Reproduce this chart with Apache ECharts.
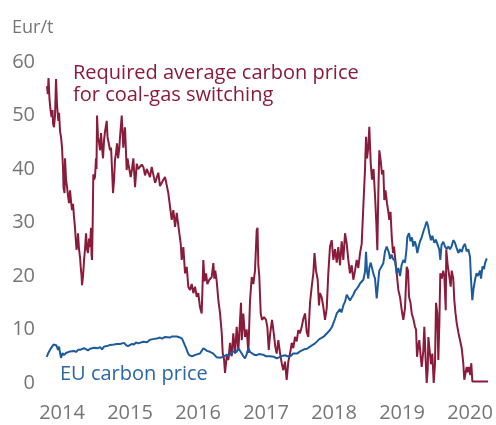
<!DOCTYPE html>
<html>
<head>
<meta charset="utf-8">
<script src="https://cdn.jsdelivr.net/npm/echarts@6/dist/echarts.min.js"></script>
<style>
  html, body { margin: 0; padding: 0; background: #fff; }
  #chart { width: 496px; height: 425px; }
</style>
</head>
<body>
<div id="chart"></div>
<script>
// x values are decimal years, y values are Eur/t
const yearTicks = [2014, 2015, 2016, 2017, 2018, 2019, 2020];
const valueTicks = [0, 10, 20, 30, 40, 50, 60];

const switchPrice = [
  [2013.779, 55.5], [2013.791, 54], [2013.801, 57], [2013.816, 53], [2013.831, 51], [2013.846, 49.7],
  [2013.860, 51], [2013.868, 48.5], [2013.882, 47.8], [2013.897, 50], [2013.912, 56.8], [2013.926, 52],
  [2013.946, 49], [2013.956, 50.5], [2013.971, 47], [2013.985, 46], [2014.000, 44], [2014.015, 40],
  [2014.022, 36.5], [2014.037, 35.5], [2014.044, 42], [2014.059, 38], [2014.074, 36.6], [2014.088, 35],
  [2014.103, 33.6], [2014.118, 36], [2014.132, 34], [2014.147, 32.3], [2014.162, 33.5], [2014.176, 31],
  [2014.191, 29], [2014.201, 27], [2014.213, 24.9], [2014.228, 26], [2014.235, 28], [2014.250, 25],
  [2014.265, 23.5], [2014.275, 21.7], [2014.287, 20], [2014.294, 18.3], [2014.309, 20], [2014.324, 23],
  [2014.338, 25], [2014.353, 28], [2014.368, 25], [2014.382, 24.3], [2014.397, 27], [2014.412, 25.4],
  [2014.426, 29], [2014.434, 24], [2014.441, 23], [2014.451, 30], [2014.460, 39], [2014.471, 38],
  [2014.485, 38.5], [2014.500, 42], [2014.507, 40], [2014.515, 50], [2014.529, 46], [2014.544, 45],
  [2014.559, 43.5], [2014.574, 46.7], [2014.588, 44], [2014.603, 42], [2014.618, 45.4], [2014.632, 47],
  [2014.657, 49], [2014.669, 46], [2014.684, 45], [2014.706, 43.5], [2014.721, 44], [2014.735, 40],
  [2014.750, 35.5], [2014.765, 38], [2014.779, 41.7], [2014.794, 43], [2014.809, 44.8], [2014.824, 42],
  [2014.843, 44], [2014.853, 46], [2014.878, 50], [2014.890, 47], [2014.901, 44], [2014.912, 46],
  [2014.926, 47.8], [2014.951, 39.8], [2014.963, 42], [2014.975, 41], [2015.010, 38.5], [2015.029, 40],
  [2015.049, 42], [2015.074, 36.6], [2015.099, 41], [2015.118, 40], [2015.137, 39.8], [2015.172, 40.8],
  [2015.196, 40.4], [2015.221, 38.8], [2015.246, 40], [2015.294, 38.5], [2015.319, 40.4], [2015.368, 37.4],
  [2015.416, 39.3], [2015.441, 36.8], [2015.490, 38], [2015.515, 38.5], [2015.563, 35.5], [2015.588, 33],
  [2015.613, 30.5], [2015.637, 32.3], [2015.662, 29.2], [2015.687, 31.8], [2015.710, 32], [2015.725, 28],
  [2015.746, 26], [2015.760, 23], [2015.784, 25.4], [2015.809, 20.5], [2015.834, 21.7], [2015.857, 18],
  [2015.882, 17.4], [2015.907, 18.5], [2015.931, 16.8], [2015.956, 18], [2015.981, 16.1], [2016.004, 16.8],
  [2016.029, 14.2], [2016.054, 13], [2016.078, 23], [2016.096, 19], [2016.118, 20.5], [2016.137, 18.5],
  [2016.166, 19.3], [2016.201, 19.8], [2016.225, 22.4], [2016.240, 19.5], [2016.254, 21], [2016.275, 19],
  [2016.299, 15.5], [2016.324, 13], [2016.349, 9.3], [2016.363, 5.6], [2016.382, 4.5], [2016.397, 1.9],
  [2016.422, 5], [2016.446, 4.3], [2016.471, 7.5], [2016.496, 5], [2016.519, 9.3], [2016.544, 5.5],
  [2016.569, 10.5], [2016.593, 6], [2016.618, 11.8], [2016.632, 15], [2016.643, 8], [2016.666, 13],
  [2016.691, 8.6], [2016.716, 10], [2016.740, 5.6], [2016.765, 15.5], [2016.790, 19.8], [2016.813, 18.5],
  [2016.838, 21], [2016.863, 28.6], [2016.875, 29], [2016.887, 22], [2016.901, 20], [2016.922, 13],
  [2016.941, 11.8], [2016.971, 12.3], [2017.000, 11.8], [2017.019, 10.5], [2017.040, 6.2], [2017.059, 9],
  [2017.088, 11.8], [2017.107, 10], [2017.137, 6.7], [2017.157, 5.5], [2017.181, 8], [2017.206, 5.6],
  [2017.231, 3.7], [2017.254, 2.4], [2017.279, 4], [2017.304, 0.6], [2017.328, 4], [2017.353, 5.5],
  [2017.378, 7.5], [2017.401, 6.5], [2017.426, 8.6], [2017.451, 7.8], [2017.475, 9.9], [2017.500, 9.3],
  [2017.525, 10.5], [2017.549, 12], [2017.574, 13], [2017.599, 9.5], [2017.622, 8.6], [2017.647, 15],
  [2017.672, 18], [2017.696, 20.5], [2017.713, 24.3], [2017.735, 21], [2017.760, 19.3], [2017.779, 14.5],
  [2017.794, 16.8], [2017.819, 16], [2017.843, 14.2], [2017.868, 11.8], [2017.893, 14], [2017.916, 20.5],
  [2017.941, 25.5], [2017.966, 26.7], [2017.990, 23], [2018.015, 25], [2018.040, 22.5], [2018.063, 25.4],
  [2018.088, 22], [2018.113, 26.5], [2018.137, 23], [2018.162, 28], [2018.187, 26], [2018.210, 23],
  [2018.235, 20.5], [2018.260, 22], [2018.284, 19.3], [2018.309, 21], [2018.334, 23], [2018.357, 21.5],
  [2018.382, 24.2], [2018.407, 26], [2018.431, 33], [2018.456, 40], [2018.471, 46], [2018.485, 42],
  [2018.504, 44], [2018.519, 47.9], [2018.540, 41], [2018.559, 38], [2018.581, 40], [2018.603, 35],
  [2018.622, 30], [2018.637, 24.8], [2018.651, 35], [2018.666, 43.5], [2018.687, 41.5], [2018.706, 39],
  [2018.725, 39.8], [2018.740, 34.2], [2018.757, 36], [2018.779, 33.6], [2018.799, 32], [2018.813, 30.5],
  [2018.831, 32], [2018.849, 27.3], [2018.868, 24.3], [2018.882, 25.5], [2018.897, 23.6], [2018.922, 20.5],
  [2018.946, 17.4], [2018.971, 16], [2018.996, 13.6], [2019.019, 11.8], [2019.044, 14], [2019.069, 21.7],
  [2019.088, 21], [2019.103, 16.1], [2019.125, 15], [2019.143, 13], [2019.166, 12], [2019.191, 10.5],
  [2019.206, 10], [2019.221, 4.9], [2019.240, 7], [2019.254, 8], [2019.275, 4.9], [2019.290, 3],
  [2019.313, 6], [2019.328, 10.5], [2019.349, 4], [2019.363, 0], [2019.378, 2.5], [2019.387, 8.6],
  [2019.407, 6], [2019.426, 3.5], [2019.446, 5.5], [2019.466, 0], [2019.485, 3.5], [2019.500, 15],
  [2019.519, 13], [2019.534, 4.3], [2019.549, 11], [2019.563, 20.5], [2019.584, 19.5], [2019.607, 21],
  [2019.622, 20], [2019.643, 13.6], [2019.651, 24.9], [2019.672, 22], [2019.696, 19.9], [2019.716, 18],
  [2019.731, 21], [2019.754, 19.5], [2019.769, 15.5], [2019.787, 13], [2019.804, 11.2], [2019.828, 9.5],
  [2019.853, 8], [2019.878, 6.5], [2019.901, 3.7], [2019.916, 0.6], [2019.934, 0.4], [2019.951, 3],
  [2019.966, 2], [2019.985, 3], [2020.004, 1.5], [2020.019, 3.7], [2020.034, 0.3], [2020.265, 0.3]
];

const euCarbonPrice = [
  [2013.775, 4.9], [2013.794, 5.5], [2013.824, 6.2], [2013.853, 6.8], [2013.875, 7.2], [2013.897, 7.5],
  [2013.919, 7.0], [2013.941, 6.2], [2013.956, 6.8], [2013.971, 5.6], [2013.985, 4.7], [2014.007, 5.6],
  [2014.029, 5.2], [2014.059, 5.6], [2014.088, 5.3], [2014.118, 5.9], [2014.147, 5.6], [2014.176, 6.0],
  [2014.206, 5.8], [2014.235, 6.2], [2014.265, 6.2], [2014.294, 6.0], [2014.324, 6.5], [2014.353, 6.3],
  [2014.382, 6.1], [2014.412, 6.4], [2014.441, 6.2], [2014.471, 6.6], [2014.500, 6.3], [2014.529, 6.5],
  [2014.559, 6.7], [2014.588, 6.3], [2014.618, 6.8], [2014.657, 6.9], [2014.676, 6.6], [2014.706, 7.1],
  [2014.735, 6.8], [2014.765, 7.2], [2014.804, 7.3], [2014.824, 7.0], [2014.853, 7.3], [2014.882, 7.1],
  [2014.912, 7.5], [2014.941, 7.1], [2014.971, 6.9], [2015.000, 7.1], [2015.029, 7.3], [2015.059, 7.2],
  [2015.088, 7.6], [2015.118, 7.4], [2015.147, 7.7], [2015.196, 7.7], [2015.221, 7.9], [2015.250, 7.6],
  [2015.294, 8.1], [2015.338, 8.2], [2015.393, 8.3], [2015.441, 8.5], [2015.471, 8.3], [2015.515, 8.6],
  [2015.544, 8.4], [2015.588, 8.5], [2015.618, 8.7], [2015.647, 8.9], [2015.687, 8.7], [2015.706, 8.9],
  [2015.735, 8.5], [2015.765, 8.3], [2015.784, 8.0], [2015.801, 7.2], [2015.824, 6.5], [2015.846, 5.8],
  [2015.868, 5.2], [2015.882, 4.9], [2015.912, 5.0], [2015.941, 4.9], [2015.971, 5.3], [2016.000, 5.2],
  [2016.029, 5.5], [2016.051, 5.8], [2016.078, 6.5], [2016.103, 6.2], [2016.132, 6.0], [2016.162, 5.9],
  [2016.191, 5.7], [2016.225, 5.5], [2016.250, 5.2], [2016.275, 4.8], [2016.294, 5.0], [2016.324, 4.7],
  [2016.349, 4.6], [2016.368, 4.9], [2016.397, 5.0], [2016.426, 5.3], [2016.456, 5.1], [2016.485, 5.6],
  [2016.519, 5.9], [2016.544, 6.2], [2016.569, 5.8], [2016.593, 6.5], [2016.618, 6.3], [2016.643, 5.5],
  [2016.666, 5.0], [2016.691, 4.6], [2016.716, 5.4], [2016.740, 6.5], [2016.765, 5.8], [2016.794, 5.6],
  [2016.824, 5.3], [2016.863, 5.2], [2016.897, 5.4], [2016.926, 5.1], [2016.956, 5.3], [2017.000, 5.0],
  [2017.029, 5.2], [2017.059, 5.0], [2017.088, 4.8], [2017.118, 4.9], [2017.157, 4.6], [2017.191, 4.8],
  [2017.221, 5.0], [2017.250, 4.9], [2017.279, 5.2], [2017.309, 5.0], [2017.338, 5.3], [2017.368, 5.1],
  [2017.397, 5.5], [2017.426, 5.6], [2017.456, 5.5], [2017.500, 5.9], [2017.529, 6.1], [2017.559, 6.3],
  [2017.574, 6.5], [2017.603, 6.4], [2017.647, 6.8], [2017.676, 7.0], [2017.721, 7.4], [2017.750, 7.7],
  [2017.784, 8.2], [2017.809, 8.0], [2017.843, 8.6], [2017.868, 8.8], [2017.897, 9.3], [2017.941, 9.9],
  [2017.971, 10.5], [2017.990, 11.2], [2018.015, 12], [2018.040, 13], [2018.063, 13.2], [2018.088, 13.8],
  [2018.110, 13.2], [2018.137, 14.5], [2018.162, 15.2], [2018.187, 16.5], [2018.210, 16.2], [2018.235, 15.4],
  [2018.260, 16], [2018.284, 16.5], [2018.309, 17.2], [2018.334, 17.6], [2018.357, 18], [2018.382, 18.6],
  [2018.407, 18.5], [2018.431, 19.3], [2018.456, 20.8], [2018.471, 24.5], [2018.485, 21], [2018.504, 19.5],
  [2018.519, 21.5], [2018.540, 22.5], [2018.559, 21.5], [2018.578, 20.5], [2018.603, 19.5], [2018.628, 15.8],
  [2018.647, 18.5], [2018.666, 21], [2018.687, 21.5], [2018.706, 21.2], [2018.725, 22.4], [2018.750, 24.6],
  [2018.775, 25.5], [2018.794, 25.6], [2018.809, 24.3], [2018.824, 23.2], [2018.846, 24], [2018.868, 23.2],
  [2018.897, 22.8], [2018.922, 20.5], [2018.946, 21.5], [2018.971, 20], [2018.993, 22], [2019.019, 23],
  [2019.044, 22.5], [2019.066, 25], [2019.078, 27.3], [2019.103, 28], [2019.125, 26.5], [2019.147, 27.2],
  [2019.166, 25.5], [2019.187, 26.5], [2019.206, 25.8], [2019.225, 24.3], [2019.246, 25.5], [2019.265, 26.5],
  [2019.284, 27], [2019.299, 27.3], [2019.319, 28.5], [2019.338, 29.2], [2019.363, 30.2], [2019.382, 29.4],
  [2019.401, 28], [2019.426, 26.7], [2019.446, 27.5], [2019.475, 26.2], [2019.497, 26.8], [2019.522, 25.9],
  [2019.549, 24.9], [2019.563, 23], [2019.581, 25.8], [2019.607, 26.4], [2019.632, 25.5], [2019.657, 25],
  [2019.681, 25.5], [2019.706, 25], [2019.731, 25.6], [2019.754, 26.7], [2019.779, 26.2], [2019.804, 25.2],
  [2019.828, 24.3], [2019.853, 25], [2019.878, 24.5], [2019.901, 25.5], [2019.926, 26], [2019.951, 24.6],
  [2019.975, 25], [2020.000, 23.6], [2020.015, 19.3], [2020.034, 15.5], [2020.051, 17.5], [2020.074, 19.3],
  [2020.096, 20.5], [2020.118, 20], [2020.147, 21], [2020.162, 19.5], [2020.184, 21.8], [2020.206, 21.3],
  [2020.221, 22.4], [2020.246, 23.3]
];

const redColor = '#8a1c3b';
const blueColor = '#1d5c9c';
const greyText = '#757575';
const fontFamily = '"Open Sans", "Noto Sans", sans-serif';

const chart = echarts.init(document.getElementById('chart'));

chart.setOption({
  animation: false,
  backgroundColor: '#fff',
  grid: { left: 40, right: 6, top: 62, bottom: 42 },
  xAxis: {
    type: 'value',
    min: 2013.676,
    max: 2020.294,
    axisLine: { show: false },
    axisTick: { show: false },
    splitLine: { show: false },
    axisLabel: {
      customValues: yearTicks,
      formatter: (v) => String(Math.round(v)),
      color: greyText,
      fontSize: 20,
      fontFamily: fontFamily,
      margin: 20,
    },
  },
  yAxis: {
    type: 'value',
    min: 0,
    max: 60,
    interval: 10,
    axisLine: { show: false },
    axisTick: { show: false },
    splitLine: { show: false },
    axisLabel: {
      customValues: valueTicks,
      color: greyText,
      fontSize: 20,
      fontFamily: fontFamily,
      margin: 5,
    },
  },
  graphic: [
    {
      type: 'text',
      left: 12,
      top: 18,
      style: { text: 'Eur/t', fill: greyText, font: '18px ' + fontFamily, lineHeight: 20 },
    },
    {
      type: 'text',
      left: 73,
      top: 62,
      style: {
        text: 'Required average carbon price\nfor coal-gas switching',
        fill: redColor,
        font: '20px ' + fontFamily,
        lineHeight: 22,
      },
    },
    {
      type: 'text',
      left: 60,
      top: 363,
      style: { text: 'EU carbon price', fill: '#2b67a6', font: '20px ' + fontFamily, lineHeight: 22 },
    },
  ],
  series: [
    {
      name: 'Required average carbon price for coal-gas switching',
      type: 'line',
      data: switchPrice,
      showSymbol: false,
      lineStyle: { color: redColor, width: 2 },
      z: 2,
    },
    {
      name: 'EU carbon price',
      type: 'line',
      data: euCarbonPrice,
      showSymbol: false,
      lineStyle: { color: blueColor, width: 2 },
      z: 3,
    },
  ],
});
</script>
</body>
</html>
